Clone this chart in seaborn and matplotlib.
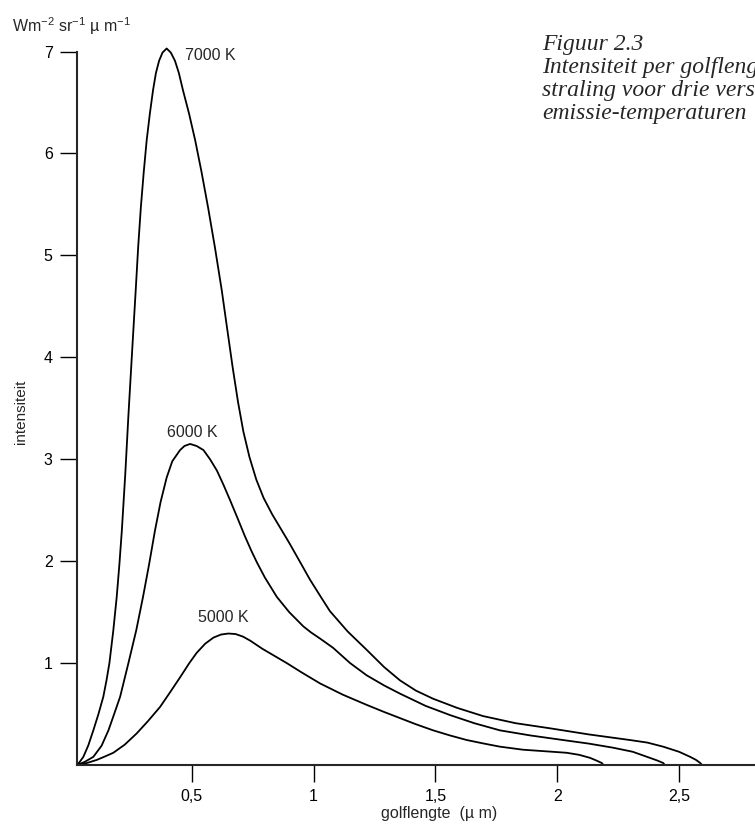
import pandas as pd
import seaborn as sns
import matplotlib.pyplot as plt

# golflengte (um) en intensiteit
x_7000 = [0.029, 0.040, 0.055, 0.075, 0.096, 0.117, 0.137, 0.150, 0.162, 0.178, 0.192, 0.203, 0.213, 0.227,
          0.240, 0.255, 0.270, 0.280, 0.291, 0.303, 0.315, 0.328, 0.341, 0.353, 0.366, 0.380, 0.397, 0.414,
          0.431, 0.447, 0.464, 0.489, 0.514, 0.540, 0.567, 0.595, 0.623, 0.646, 0.668, 0.690, 0.712, 0.737,
          0.765, 0.795, 0.830, 0.865, 0.900, 0.945, 0.985, 1.027, 1.067, 1.140, 1.218, 1.290, 1.355, 1.420,
          1.491, 1.590, 1.696, 1.830, 1.971, 2.130, 2.299, 2.370, 2.435, 2.500, 2.546, 2.570, 2.587, 2.595]
y_7000 = [0.0, 0.03, 0.08, 0.19, 0.34, 0.50, 0.67, 0.83, 1.0, 1.32, 1.65, 1.97, 2.30, 2.85,
          3.43, 4.05, 4.66, 5.08, 5.47, 5.82, 6.13, 6.39, 6.62, 6.79, 6.91, 6.99, 7.03, 6.99,
          6.91, 6.79, 6.62, 6.39, 6.13, 5.82, 5.47, 5.08, 4.66, 4.27, 3.90, 3.56, 3.27, 3.02,
          2.80, 2.62, 2.46, 2.32, 2.18, 1.99, 1.82, 1.66, 1.51, 1.31, 1.13, 0.96, 0.83, 0.73,
          0.65, 0.56, 0.48, 0.41, 0.36, 0.30, 0.245, 0.22, 0.18, 0.13, 0.08, 0.05, 0.02, 0.0]

x_6000 = [0.029, 0.060, 0.096, 0.130, 0.158, 0.180, 0.206, 0.240, 0.272, 0.300, 0.325, 0.349, 0.372, 0.397,
          0.420, 0.452, 0.470, 0.493, 0.520, 0.548, 0.575, 0.603, 0.630, 0.657, 0.690, 0.719, 0.745, 0.767,
          0.800, 0.849, 0.900, 0.958, 0.990, 1.027, 1.080, 1.150, 1.218, 1.290, 1.355, 1.460, 1.560, 1.660,
          1.765, 1.890, 2.024, 2.130, 2.229, 2.310, 2.369, 2.410, 2.435, 2.442]
y_6000 = [0.0, 0.03, 0.08, 0.19, 0.34, 0.49, 0.67, 1.0, 1.32, 1.65, 1.97, 2.30, 2.58, 2.82,
          2.98, 3.09, 3.13, 3.15, 3.13, 3.09, 3.00, 2.89, 2.75, 2.60, 2.41, 2.24, 2.10, 1.99,
          1.84, 1.65, 1.50, 1.36, 1.30, 1.24, 1.15, 1.00, 0.88, 0.78, 0.70, 0.58, 0.49, 0.41,
          0.34, 0.29, 0.245, 0.21, 0.17, 0.13, 0.08, 0.045, 0.02, 0.0]

x_5000 = [0.029, 0.070, 0.110, 0.140, 0.178, 0.225, 0.274, 0.320, 0.370, 0.410, 0.452, 0.490, 0.520, 0.555,
          0.589, 0.620, 0.650, 0.680, 0.710, 0.740, 0.790, 0.840, 0.890, 0.950, 1.027, 1.120, 1.218, 1.290,
          1.355, 1.420, 1.491, 1.560, 1.629, 1.700, 1.765, 1.860, 1.950, 2.039, 2.090, 2.135, 2.160, 2.183,
          2.190]
y_5000 = [0.0, 0.02, 0.05, 0.08, 0.12, 0.20, 0.31, 0.43, 0.57, 0.71, 0.86, 1.0, 1.10, 1.19,
          1.25, 1.28, 1.29, 1.285, 1.26, 1.22, 1.14, 1.07, 1.0, 0.91, 0.80, 0.69, 0.59, 0.52,
          0.46, 0.40, 0.34, 0.29, 0.245, 0.21, 0.18, 0.15, 0.135, 0.12, 0.10, 0.07, 0.045, 0.02,
          0.0]

temperaturen = ['7000 K', '6000 K', '5000 K']
label_x = [0.4725, 0.397, 0.526]
label_y = [6.92, 3.22, 1.40]

x_ticks = [0.5, 1.0, 1.5, 2.0, 2.5]
x_ticklabels = ['0,5', '1', '1,5', '2', '2,5']
y_ticks = [1, 2, 3, 4, 5, 6, 7]

sns.set_style('ticks')
plt.rcParams['font.family'] = ['Liberation Sans', 'DejaVu Sans']
plt.rcParams['mathtext.fontset'] = 'custom'
plt.rcParams['mathtext.rm'] = 'Liberation Sans'

fig = plt.figure(figsize=(7.55, 8.3), dpi=100)
ax = fig.add_axes([0.102, 0.0783, 0.898, 0.8596])

for xs, ys in [(x_7000, y_7000), (x_6000, y_6000), (x_5000, y_5000)]:
    df = pd.DataFrame({'golflengte': xs, 'intensiteit': ys})
    sns.lineplot(data=df, x='golflengte', y='intensiteit', sort=False, color='black', lw=1.3,
                 clip_on=False, ax=ax)

for t, lx, ly in zip(temperaturen, label_x, label_y):
    ax.text(lx, ly, t, fontsize=11.5, ha='left', va='baseline')

ax.set_xlim(0.029, 2.812)
ax.set_ylim(0, 7)
ax.set_xticks(x_ticks)
ax.set_xticklabels(x_ticklabels)
ax.set_yticks(y_ticks)
ax.tick_params(direction='out', length=12, width=1, pad=5.5, labelsize=11.5, colors='black')
sns.despine(ax=ax)
ax.spines['left'].set_linewidth(1.5)
ax.spines['bottom'].set_linewidth(1.5)

ax.set_xlabel('golflengte  (µ m)', fontsize=11.5)
ax.xaxis.set_label_coords(0.534, -0.0575)
ax.set_ylabel('intensiteit', fontsize=11)
ax.yaxis.set_label_coords(-0.073, 0.495)

fig.text(12 / 755, 1 - 32 / 830, r'Wm$^{\mathregular{-2}}$ sr$^{\mathregular{-1}}$ µ m$^{\mathregular{-1}}$',
         fontsize=11.5, va='baseline')

bijschrift = ['Figuur 2.3', 'Intensiteit per golflengte van zwarte', 'straling voor drie verschillende',
              'emissie-temperaturen']
for i, regel in enumerate(bijschrift):
    fig.text(542 / 755, 1 - (50 + 23 * i) / 830, regel, family='Liberation Serif', style='italic',
             fontsize=17, va='baseline')

plt.savefig('out.png', dpi=100)
